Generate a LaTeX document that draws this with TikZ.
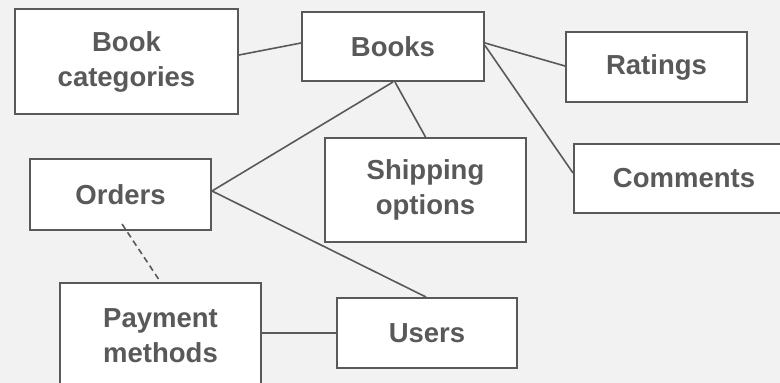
\documentclass[tikz,border=0pt]{standalone}
\usepackage{fontspec}
\setmainfont{Liberation Sans}
\definecolor{bg}{HTML}{F2F2F2}
\definecolor{ink}{HTML}{595959}
\begin{document}
\begin{tikzpicture}[x=1pt,y=-1pt,
  box/.style={draw=ink,fill=white,line width=2pt,align=center,text=ink,
    font=\fontsize{27.5}{35}\selectfont\bfseries,inner sep=0pt},
  link/.style={draw=ink,line width=1.6pt},
  dlink/.style={link,dash pattern=on 6pt off 4pt}]
\useasboundingbox (0,0) rectangle (780,383);
\fill[bg] (0,0) rectangle (780,383);
\clip (0,0) rectangle (780,383);
\node[box,minimum width=223pt,minimum height=105pt] (bookcat) at (126.5,61.5) {Book\\categories};
\node[box,minimum width=182pt,minimum height=69pt] (books) at (393,46.5) {Books};
\node[box,minimum width=181pt,minimum height=70pt] (ratings) at (656.5,67) {Ratings};
\node[box,minimum width=220pt,minimum height=69pt] (comments) at (684,178.5) {Comments};
\node[box,minimum width=201pt,minimum height=104pt] (shipping) at (425.5,190) {Shipping\\options};
\node[box,minimum width=181pt,minimum height=71pt] (orders) at (120.5,194.5) {Orders};
\node[box,minimum width=201pt,minimum height=106pt] (payment) at (160.5,336) {Payment\\methods};
\node[box,minimum width=180pt,minimum height=70pt] (users) at (427,333) {Users};
\draw[link] ([yshift=6.5pt]bookcat.east) -- ([yshift=3.5pt]books.west);
\draw[link] ([yshift=3.5pt]books.east) -- ([yshift=1pt]ratings.west);
\draw[link] ([yshift=1pt]books.east) -- ([yshift=5.5pt]comments.west);
\draw[link] (books.south) -- ([yshift=3.5pt]orders.east);
\draw[link] ([xshift=2pt]books.south) -- (shipping.north);
\draw[link] ([yshift=3.5pt]orders.east) -- ([xshift=-1pt]users.north);
\draw[dlink] ([xshift=1.5pt,yshift=7pt]orders.south) -- (payment.north);
\draw[link] (payment.east |- users.west) -- (users.west);
\end{tikzpicture}
\end{document}
